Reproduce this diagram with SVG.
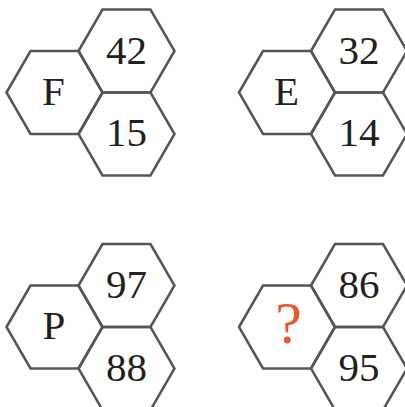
<svg xmlns="http://www.w3.org/2000/svg" xmlns:xlink="http://www.w3.org/1999/xlink" width="405" height="407" viewBox="0 0 405 407">
<style>
.hex{fill:none;stroke:#555555;stroke-width:2.5;stroke-linejoin:miter}
.t{font-family:"Liberation Serif","Times New Roman",serif;font-size:41px;fill:#231f20;text-anchor:middle}
.q{font-family:"Liberation Serif","Times New Roman",serif;font-size:60px;fill:#e9582b;text-anchor:middle}
</style>
<defs>
<polygon id="h" points="-48,0 -24,-41.5 24,-41.5 48,0 24,41.5 -24,41.5"/>
</defs>
<rect width="405" height="407" fill="#ffffff"/>
<g id="groupF">
<use xlink:href="#h" class="hex" x="54.5" y="92.5"/>
<use xlink:href="#h" class="hex" x="126.5" y="51"/>
<use xlink:href="#h" class="hex" x="126.5" y="134"/>
<text class="t" x="53.5" y="104.5">F</text>
<text class="t" x="126.5" y="63.5">42</text>
<text class="t" x="126.5" y="146">15</text>
</g>
<g id="groupE" transform="translate(232.5,0)">
<use xlink:href="#h" class="hex" x="54.5" y="92.5"/>
<use xlink:href="#h" class="hex" x="126.5" y="51"/>
<use xlink:href="#h" class="hex" x="126.5" y="134"/>
<text class="t" x="54" y="104.5">E</text>
<text class="t" x="126.5" y="63.5">32</text>
<text class="t" x="126.5" y="146">14</text>
</g>
<g id="groupP" transform="translate(0,234.5)">
<use xlink:href="#h" class="hex" x="54.5" y="92.5"/>
<use xlink:href="#h" class="hex" x="126.5" y="51"/>
<use xlink:href="#h" class="hex" x="126.5" y="134"/>
<text class="t" x="54" y="104.5">P</text>
<text class="t" x="126.5" y="63.5">97</text>
<text class="t" x="126.5" y="146">88</text>
</g>
<g id="groupQ" transform="translate(232.5,234.5)">
<use xlink:href="#h" class="hex" x="54.5" y="92.5"/>
<use xlink:href="#h" class="hex" x="126.5" y="51"/>
<use xlink:href="#h" class="hex" x="126.5" y="134"/>
<text class="q" x="56" y="108.5">?</text>
<text class="t" x="126.5" y="63.5">86</text>
<text class="t" x="126.5" y="146">95</text>
</g>
<g id="connectors"/>
</svg>
